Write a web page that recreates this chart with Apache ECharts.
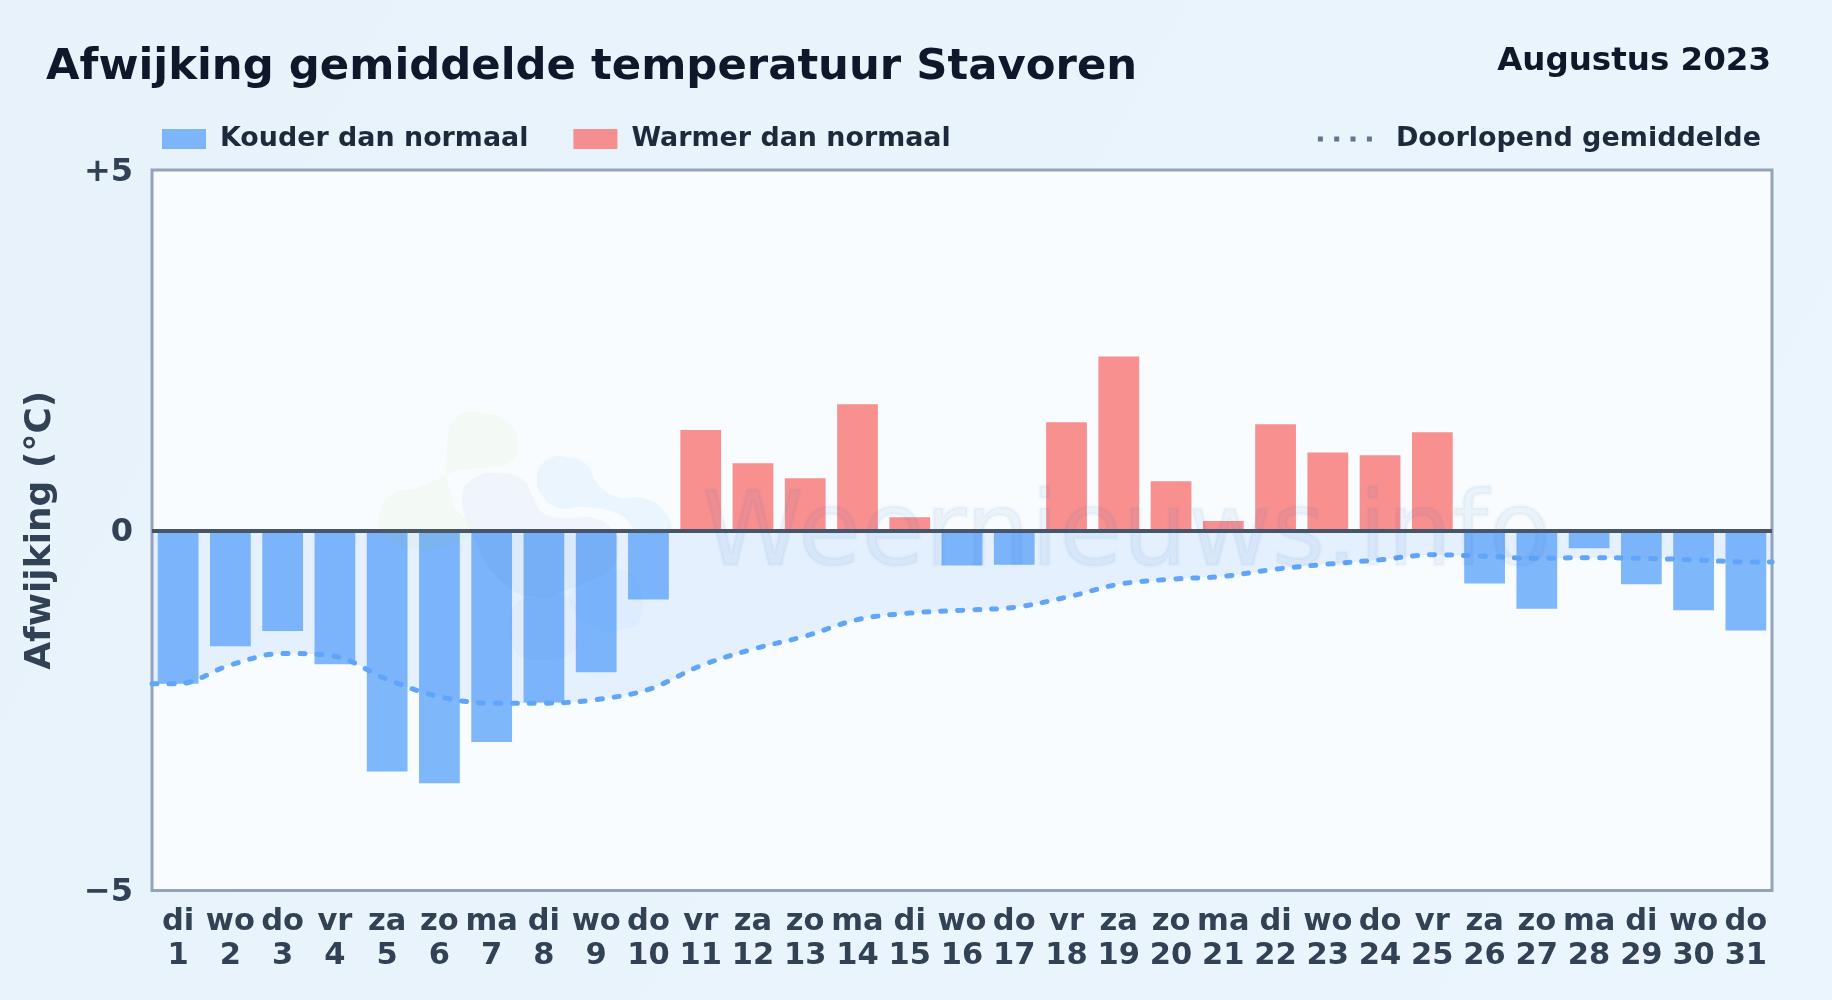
<!DOCTYPE html>
<html>
<head>
<meta charset="utf-8">
<style>html,body{margin:0;padding:0;background:#e8f3fc}#c{width:1832px;height:1000px}</style>
<script src="https://cdn.jsdelivr.net/npm/echarts@6/dist/echarts.min.js"></script>
</head>
<body>
<div id="c"></div>
<script>
const weekdays = ['di','wo','do','vr','za','zo','ma','di','wo','do','vr','za','zo','ma','di','wo','do','vr','za','zo','ma','di','wo','do','vr','za','zo','ma','di','wo','do'];
const days = [1,2,3,4,5,6,7,8,9,10,11,12,13,14,15,16,17,18,19,20,21,22,23,24,25,26,27,28,29,30,31];
const kouder = [-2.13,-1.61,-1.40,-1.86,-3.35,-3.51,-2.94,-2.39,-1.97,-0.96,null,null,null,null,null,-0.49,-0.48,null,null,null,null,null,null,null,null,-0.74,-1.09,-0.25,-0.75,-1.11,-1.39];
const warmer = [null,null,null,null,null,null,null,null,null,null,1.39,0.93,0.72,1.75,0.18,null,null,1.50,2.41,0.68,0.13,1.47,1.08,1.04,1.36,null,null,null,null,null,null];
const gemiddelde = [-2.13,-1.87,-1.71,-1.75,-2.07,-2.31,-2.40,-2.40,-2.35,-2.21,-1.88,-1.65,-1.47,-1.24,-1.15,-1.11,-1.07,-0.93,-0.75,-0.68,-0.64,-0.54,-0.47,-0.41,-0.34,-0.36,-0.39,-0.38,-0.39,-0.41,-0.44];
const yTicks = {'5':'+5','0':'0','-5':'\u22125'};
const FONT = '"DejaVu Sans"';

const lineData = [[0.5, gemiddelde[0]]].concat(gemiddelde.map((v,i)=>[days[i],v]), [[31.5, gemiddelde[30]]]);

// watermark logo outlines (page pixels)
const blobGreen = [[448,433],[460,415],[482,413],[507,421],[518,445],[510,462],[483,468],[460,470],[440,478],[420,487],[393,494],[380,513],[384,535],[410,548],[450,545],[470,530],[452,500]];
const blobGrey = [[462,497],[473,479],[500,473],[523,480],[533,497],[543,513],[567,518],[593,518],[613,530],[618,550],[610,570],[590,580],[567,590],[535,597],[500,580],[475,540]];
const blobSky = [[537,477],[547,460],[567,457],[587,465],[597,483],[617,497],[643,498],[663,510],[670,530],[640,532],[620,515],[587,507],[560,508],[543,497]];
const blobLow = [[572,590],[600,575],[625,570],[640,590],[640,620],[620,630],[600,630],[575,612]];
const blobLow2 = [[512,610],[535,597],[572,600],[575,630],[575,650],[540,660],[515,650]];

const chart = echarts.init(document.getElementById('c'), null, {renderer:'canvas', width:1832, height:1000});
const poly = (pts, fill) => ({type:'polygon', z:60, silent:true, shape:{points:pts, smooth:0.5}, style:{fill}});
chart.setOption({
  animation:false,
  backgroundColor:{type:'linear',x:0,y:0,x2:1,y2:1,colorStops:[{offset:0,color:'#e7f2fb'},{offset:1,color:'#ebf5fe'}]},
  textStyle:{fontFamily:FONT},
  title:[
    {text:'Afwijking gemiddelde temperatuur Stavoren', left:41, top:41, textStyle:{fontFamily:FONT,fontSize:43.35,fontWeight:'bold',color:'#0f172a'}},
    {text:'Augustus 2023', right:56, top:40, textStyle:{fontFamily:FONT,fontSize:32.5,fontWeight:'bold',color:'#0f172a'}}
  ],
  legend:[
    {left:157, top:120.5, itemWidth:44, itemHeight:20, itemGap:45, icon:'rect', data:['Kouder dan normaal','Warmer dan normaal'],
     textStyle:{fontFamily:FONT,fontSize:26.9,fontWeight:'bold',color:'#1e293b',padding:[0,0,0,9]}},
    {right:66, top:120.5, itemWidth:54, itemHeight:5, itemGap:10,
     data:[{name:'Doorlopend gemiddelde', icon:'path://M0 0h5v5h-5z M16.3 0h5v5h-5z M32.6 0h5v5h-5z M49 0h5v5h-5z', itemStyle:{color:'#64748b',opacity:1}}],
     textStyle:{fontFamily:FONT,fontSize:27,fontWeight:'bold',color:'#1e293b',padding:[0,0,0,19]}}
  ],
  grid:{left:152, right:60, top:170, height:720.5, show:true, backgroundColor:'#f8fcff', borderColor:'#94a3b8', borderWidth:3, containLabel:false},
  xAxis:[
    {type:'category', data:days, axisLine:{show:false}, axisTick:{show:false}, splitLine:{show:false},
     axisLabel:{interval:0, margin:15, fontFamily:FONT, fontSize:30.5, fontWeight:'bold', color:'#334155', lineHeight:34,
       formatter:(v,i)=>weekdays[i]+'\n'+v}},
    {type:'value', min:0.5, max:31.5, show:false}
  ],
  yAxis:{type:'value', min:-5, max:5, interval:5, name:'Afwijking (\u00b0C)', nameLocation:'middle', nameGap:93,
    nameTextStyle:{fontFamily:FONT,fontSize:36,fontWeight:'bold',color:'#334155'},
    axisLine:{show:false}, axisTick:{show:false}, splitLine:{show:false},
    axisLabel:{margin:19, color:'#334155', formatter:v=>'{t|'+yTicks[String(v)]+'}',
      rich:{t:{fontFamily:FONT, fontSize:32, fontWeight:'bold', color:'#334155', lineHeight:37, padding:[5,0,0,0]}}}},
  series:[
    {name:'Doorlopend gemiddelde', type:'line', xAxisIndex:1, data:lineData, smooth:0.35, showSymbol:false, z:4,
     lineStyle:{color:'#60a5fa', width:5, type:[5,12], cap:'round'},
     itemStyle:{color:'#64748b'},
     areaStyle:{color:'rgba(96,165,250,0.19)'}},
    {name:'Kouder dan normaal', type:'bar', data:kouder, barWidth:'78%', barGap:'-100%', z:3,
     itemStyle:{color:'rgba(96,165,250,0.8)'}},
    {name:'Warmer dan normaal', type:'bar', data:warmer, barWidth:'78%', barGap:'-100%', z:3,
     itemStyle:{color:'rgba(248,113,113,0.78)'},
     markLine:{silent:true, symbol:'none', label:{show:false}, z:40,
       lineStyle:{color:'#475569', width:4, type:'solid', opacity:1}, data:[{yAxis:0}]}}
  ],
  graphic:{elements:[
    poly(blobGreen,'rgba(132,204,22,0.04)'),
    poly(blobGrey,'rgba(30,64,175,0.035)'),
    poly(blobSky,'rgba(56,160,246,0.07)'),
    poly(blobLow,'rgba(56,160,246,0.04)'),
    poly(blobLow2,'rgba(30,64,175,0.02)'),
    {type:'text', z:60, silent:true, x:702, y:590, style:{text:'Weernieuws.info', fontFamily:FONT, fontSize:103, fill:'rgba(50,100,180,0.065)', stroke:'rgba(50,100,180,0.035)', lineWidth:3.5, textVerticalAlign:'bottom'}}
  ]}
});
</script>
</body>
</html>
